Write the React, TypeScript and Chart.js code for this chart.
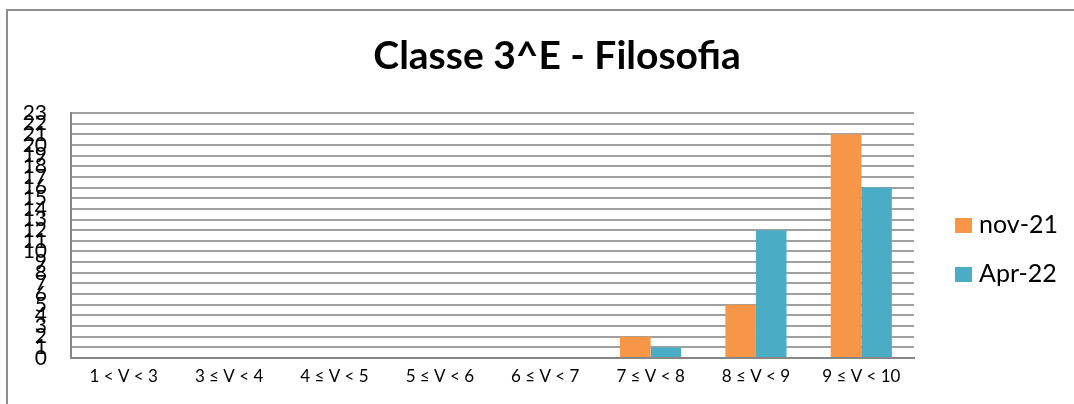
import { useEffect, useRef } from "react";
import { Chart, registerables } from "chart.js";

Chart.register(...registerables);

const categories = [
  "1 < V < 3",
  "3 ≤ V < 4",
  "4 ≤ V < 5",
  "5 ≤ V < 6",
  "6 ≤ V < 7",
  "7 ≤ V < 8",
  "8 ≤ V < 9",
  "9 ≤ V < 10",
];
const nov21 = [0, 0, 0, 0, 0, 2, 5, 21];
const apr22 = [0, 0, 0, 0, 0, 1, 12, 16];
const seriesLabels = ["nov-21", "Apr-22"];
const seriesColors = ["#F79646", "#4BACC6"];
const titleText = "Classe 3^E - Filosofia";
const yMin = 0;
const yMax = 23;

const FONT = 'Lato, "Open Sans", sans-serif';

const overlayPlugin = {
  id: "overlay",
  afterDraw(chart: any) {
    const ctx = chart.ctx as CanvasRenderingContext2D;
    ctx.save();
    ctx.fillStyle = "#000";
    ctx.font = `bold 39px ${FONT}`;
    ctx.textAlign = "center";
    ctx.textBaseline = "alphabetic";
    ctx.fillText(titleText, 557, 69);
    chart.data.datasets.forEach((ds: any, i: number) => {
      const y = 218 + i * 49;
      ctx.fillStyle = ds.backgroundColor;
      ctx.fillRect(955, y, 17, 15);
      ctx.fillStyle = "#000";
      ctx.font = `25px ${FONT}`;
      ctx.textAlign = "left";
      ctx.fillText(ds.label, 979, y + 15);
    });
    ctx.restore();
  },
};

export default function App() {
  const ref = useRef<HTMLCanvasElement | null>(null);

  useEffect(() => {
    if (!ref.current) return;
    const chart = new Chart(ref.current, {
      type: "bar",
      data: {
        labels: categories,
        datasets: [
          {
            label: seriesLabels[0],
            data: nov21,
            backgroundColor: seriesColors[0],
            borderWidth: 0,
          },
          {
            label: seriesLabels[1],
            data: apr22,
            backgroundColor: seriesColors[1],
            borderWidth: 0,
          },
        ],
      },
      options: {
        animation: false,
        responsive: true,
        maintainAspectRatio: false,
        layout: { padding: { left: 0, top: 113, right: 160, bottom: 0 } },
        datasets: {
          bar: { categoryPercentage: 0.58, barPercentage: 1 },
        },
        plugins: {
          legend: { display: false },
          title: { display: false },
          tooltip: { enabled: false },
        },
        scales: {
          x: {
            grid: { display: false, drawTicks: false },
            border: { color: "#868686", width: 2 },
            ticks: {
              padding: 8,
              color: "#000",
              font: { family: FONT, size: 17 },
              maxRotation: 0,
              autoSkip: false,
            },
            afterFit(s: any) {
              s.height = 46;
            },
          },
          y: {
            min: yMin,
            max: yMax,
            ticks: {
              stepSize: 1,
              autoSkip: false,
              padding: 24,
              color: "#000",
              font: { family: FONT, size: 21 },
            },
            grid: { color: "#a0a0a0", lineWidth: 2, drawTicks: false },
            border: { color: "#868686", width: 2 },
            afterFit(s: any) {
              s.width = 71;
            },
          },
        },
      },
      plugins: [overlayPlugin],
    });
    return () => chart.destroy();
  }, []);

  return (
    <>
      <div
        style={{
          position: "fixed",
          left: 6,
          top: 9,
          width: 1074,
          height: 404,
          borderLeft: "2px solid #8e8e8e",
          borderTop: "2px solid #8e8e8e",
          boxSizing: "border-box",
        }}
      />
      <div
        style={{
          position: "fixed",
          left: 0,
          top: 0,
          width: 1074,
          height: 404,
        }}
      >
        <canvas ref={ref} />
      </div>
    </>
  );
}
